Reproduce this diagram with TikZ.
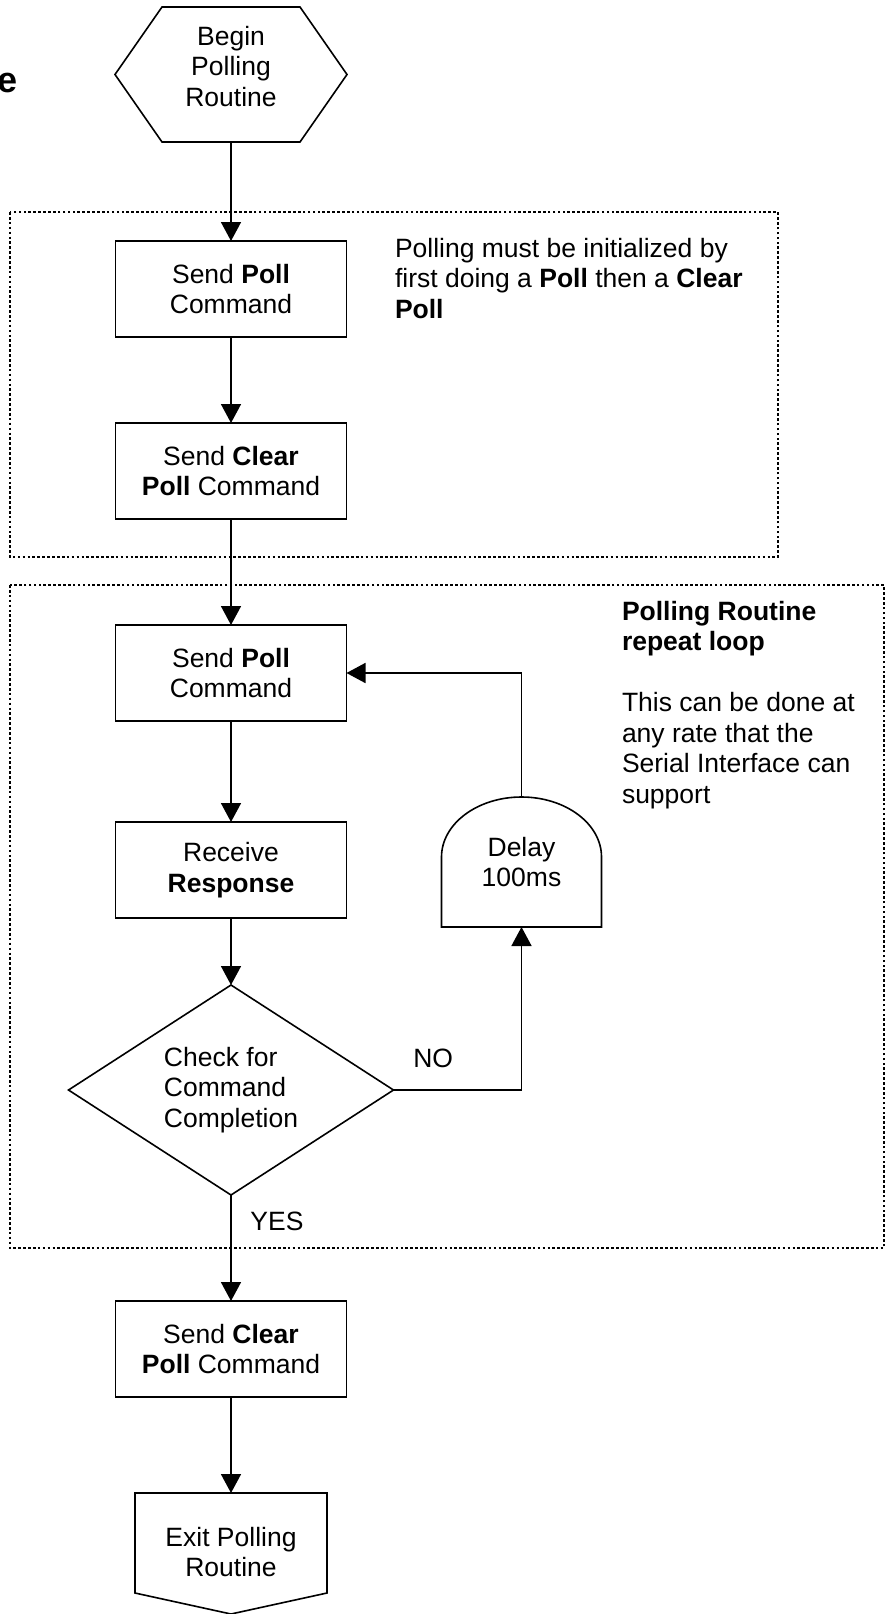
\documentclass[tikz,border=0pt]{standalone}
\usepackage{fontspec}
\setmainfont{Liberation Sans}
\usetikzlibrary{arrows.meta, positioning, shapes.geometric}

\begin{document}
\begin{tikzpicture}[
  x=1pt, y=-1pt,
  font=\fontsize{26.5pt}{30.5pt}\selectfont,
  line width=1.6pt, outer sep=0pt,
  cmdbox/.style={draw, rectangle, minimum width=231pt, minimum height=96pt, align=center, inner sep=2pt},
  endtext/.style={rectangle, align=center, inner sep=2pt},
  decision/.style={draw, diamond, aspect=1.55, minimum width=325pt, minimum height=210pt, align=left, inner sep=0pt},
  flow/.style={-{Triangle[length=19pt, width=20pt]}},
  groupframe/.style={line width=2.8pt, dash pattern=on 2.6pt off 2.3pt},
  note/.style={align=left, inner sep=0pt, anchor=north west},
  answer/.style={inner sep=0pt}
]
  \useasboundingbox (0,0) rectangle (890,1614);

  % dotted groups
  \draw[groupframe] (10,212) rectangle (778,557);
  \draw[groupframe] (10,585) rectangle (884,1248);

  \node[anchor=base east, inner sep=0pt, font=\fontsize{36pt}{40pt}\selectfont\bfseries] (title) at (18,92) {e};

  % main flow
  \node[endtext, minimum width=232pt, minimum height=135pt] (begin) at (231,74.5) {};
  \node[endtext] (begintext) at ([yshift=8pt]begin.center) {Begin\\Polling\\Routine};
  \draw (begin.west) -- ([xshift=47pt]begin.north west) -- ([xshift=-47pt]begin.north east)
    -- (begin.east) -- ([xshift=-47pt]begin.south east) -- ([xshift=47pt]begin.south west) -- cycle;
  \node[cmdbox, below=99pt of begin] (poll1) {Send \textbf{Poll}\\Command};
  \node[cmdbox, below=86pt of poll1] (clear1) {Send \textbf{Clear}\\\textbf{Poll} Command};
  \node[cmdbox, below=106pt of clear1] (poll2) {Send \textbf{Poll}\\Command};
  \node[cmdbox, below=101pt of poll2] (recv) {Receive\\\textbf{Response}};
  \node[decision, below=67pt of recv] (check) {Check for\\Command\\Completion};
  \node[cmdbox, below=106pt of check] (clear2) {Send \textbf{Clear}\\\textbf{Poll} Command};
  \node[endtext, minimum width=192pt, minimum height=100pt, below=96pt of clear2] (exit) {};
  \node[endtext] (exittext) at ([yshift=-9pt]exit.center) {Exit Polling\\Routine};
  \draw (exit.north west) -- (exit.north east) -- (exit.south east)
    -- ([yshift=-21pt]exit.south) -- (exit.south west) -- cycle;

  % delay block in the loop
  \node[endtext, minimum width=160pt, minimum height=130pt, right=95pt of recv, yshift=8pt] (delay) {Delay\\100ms};
  \draw (delay.south west) -- ([yshift=-60pt]delay.north west)
    arc[start angle=180, end angle=0, x radius=80pt, y radius=60pt] -- (delay.south east) -- cycle;

  \draw[flow] (begin.south) -- (poll1.north);
  \draw[flow] (poll1.south) -- (clear1.north);
  \draw[flow] (clear1.south) -- (poll2.north);
  \draw[flow] (poll2.south) -- (recv.north);
  \draw[flow] (recv.south) -- (check.north);
  \draw[flow] (check.south) -- node[answer, pos=0.245, xshift=46pt] {YES} (clear2.north);
  \draw[flow] (check.east) -| node[answer, pos=0.155, yshift=32pt] {NO} (delay.south);
  \draw[flow] (delay.north) |- (poll2.east);
  \draw[flow] (clear2.south) -- (exit.north);

  % side notes
  \node[note] (initnote) at (395,238) {Polling must be initialized by\\first doing a \textbf{Poll} then a \textbf{Clear}\\\textbf{Poll}};
  \node[note] (loopnote) at (622,601) {\textbf{Polling Routine}\\\textbf{repeat loop}\\[30.5pt]This can be done at\\any rate that the\\Serial Interface can\\support};
\end{tikzpicture}
\end{document}
